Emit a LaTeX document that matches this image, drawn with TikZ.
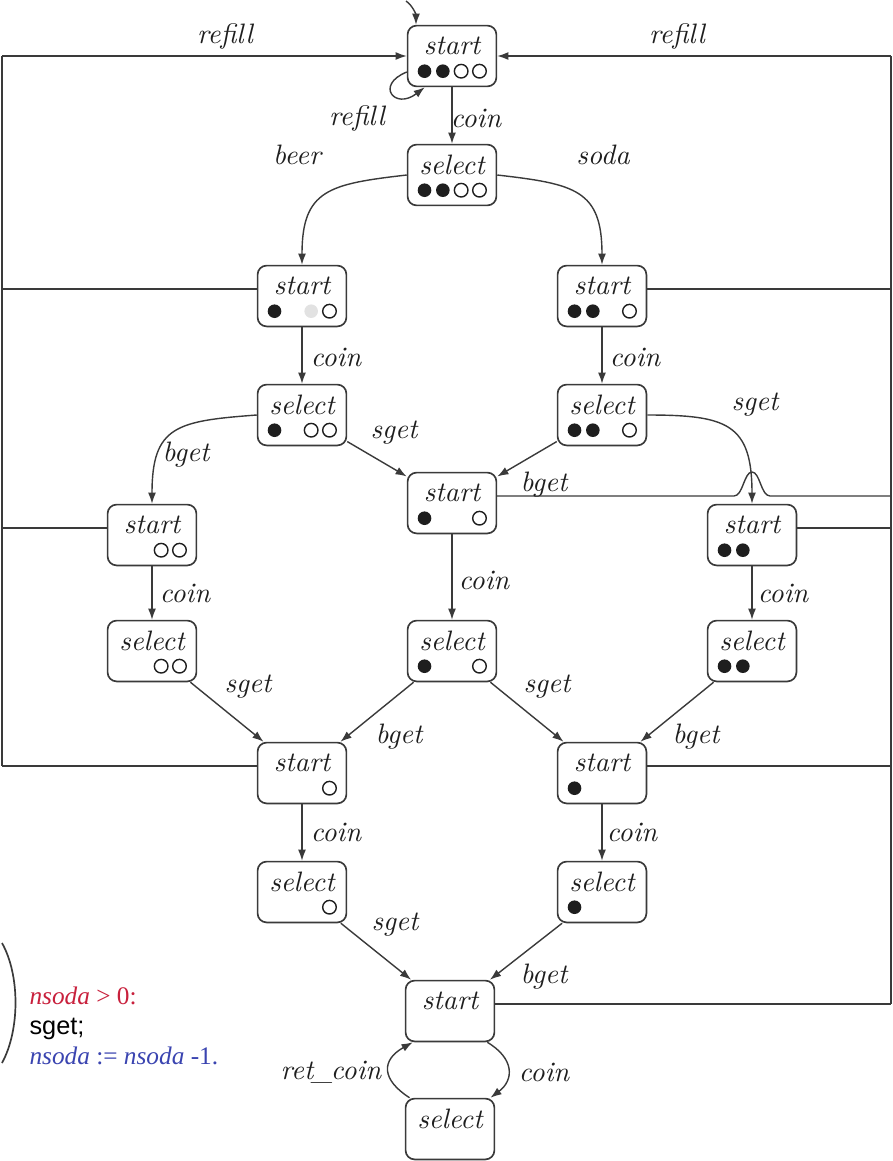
\documentclass[tikz,border=0pt]{standalone}
\usepackage{fontspec}
\usepackage{tikz}
\usetikzlibrary{arrows.meta,calc}
\newfontfamily\timesfont{Liberation Serif}
\newfontfamily\arialfont{Liberation Sans}
\definecolor{ink}{HTML}{1E1E1E}
\definecolor{wire}{HTML}{3A3A3A}
\definecolor{fadegray}{HTML}{E2E2E2}
\definecolor{nsodared}{HTML}{C8203C}
\definecolor{nsodablue}{HTML}{3A44B0}
\tikzset{
  statebox/.style={draw=wire,line width=0.6pt,rounded corners=3.2pt,minimum width=11.1mm,minimum height=7.6mm,inner sep=0pt},
  statetext/.style={font=\itshape,text=ink,inner sep=1pt},
  trans/.style={-{Latex[length=1.4mm,width=1mm]},line width=0.5pt,draw=wire},
  frameline/.style={line width=0.5pt,draw=wire},
  edgelabel/.style={font=\itshape,text=ink,inner sep=1pt},
  beerdot/.style={fill=ink},
  sodadot/.style={draw=ink,line width=0.5pt,fill=white},
  greydot/.style={fill=fadegray}
}
\newcommand{\vmstate}[3]{%
  \node[statebox] (#1) at (#2) {};
  \node[statetext] (#1-txt) at ([yshift=1.25mm]#1.center) {#3};
  \coordinate (#1-l) at ([yshift=0.875mm]#1.west);
  \coordinate (#1-r) at ([yshift=0.875mm]#1.east);
}
\newcommand{\bottles}[2]{%
  \foreach \k/\kind in {#2} {
    \path[\kind] ([xshift={(\k-2.5)*2.29mm},yshift=-1.9mm]#1.center) circle[radius=0.85mm];
  }
}

\begin{document}
\begin{tikzpicture}[x=0.125mm,y=-0.125mm,>=Latex]
  \useasboundingbox (0,0) rectangle (893,1161);
  \vmstate{s0}{452,56}{start}
  \vmstate{s1}{452,175}{select}
  \vmstate{s2}{302,296}{start}
  \vmstate{s3}{602,296}{start}
  \vmstate{s4}{302,415}{select}
  \vmstate{s5}{602,415}{select}
  \vmstate{s6}{452,503}{start}
  \vmstate{s7}{152,535}{start}
  \vmstate{s8}{752,535}{start}
  \vmstate{s9}{152,651}{select}
  \vmstate{s10}{452,651}{select}
  \vmstate{s11}{752,651}{select}
  \vmstate{s12}{302,773}{start}
  \vmstate{s13}{602,773}{start}
  \vmstate{s14}{302,892}{select}
  \vmstate{s15}{602,892}{select}
  \vmstate{s16}{450,1011}{start}
  \vmstate{s17}{450,1129}{select}
  \bottles{s0}{1/beerdot,2/beerdot,3/sodadot,4/sodadot}
  \bottles{s1}{1/beerdot,2/beerdot,3/sodadot,4/sodadot}
  \bottles{s2}{1/beerdot,3/greydot,4/sodadot}
  \bottles{s3}{1/beerdot,2/beerdot,4/sodadot}
  \bottles{s4}{1/beerdot,3/sodadot,4/sodadot}
  \bottles{s5}{1/beerdot,2/beerdot,4/sodadot}
  \bottles{s6}{1/beerdot,4/sodadot}
  \bottles{s7}{3/sodadot,4/sodadot}
  \bottles{s8}{1/beerdot,2/beerdot}
  \bottles{s9}{3/sodadot,4/sodadot}
  \bottles{s10}{1/beerdot,4/sodadot}
  \bottles{s11}{1/beerdot,2/beerdot}
  \bottles{s12}{4/sodadot}
  \bottles{s13}{1/beerdot}
  \bottles{s14}{4/sodadot}
  \bottles{s15}{1/beerdot}

  \coordinate (init) at (406,1);
  \coordinate (ltop) at (2,56);
  \coordinate (rtop) at (891,56);
  \coordinate (hop) at (s8.north |- s6-r);

  \draw[frameline] (ltop) -- (s12-l -| ltop);
  \draw[frameline] (rtop) -- (s16-r -| rtop);
  \draw[trans] (ltop) -- (s0.west);
  \draw[trans] (rtop) -- (s0.east);
  \draw[frameline] (s2-l) -- (s2-l -| ltop);
  \draw[frameline] (s7-l) -- (s7-l -| ltop);
  \draw[frameline] (s12-l) -- (s12-l -| ltop);
  \draw[frameline] (s3-r) -- (s3-r -| rtop);
  \draw[frameline] (s8-r) -- (s8-r -| rtop);
  \draw[frameline] (s13-r) -- (s13-r -| rtop);
  \draw[frameline] (s16-r) -- (s16-r -| rtop);
  \draw[frameline] (s6-r) -- ($(hop)+(-18,0)$) .. controls +(9,0) and +(-8,0) .. ($(hop)+(0,-24)$)
    .. controls +(8,0) and +(-9,0) .. ($(hop)+(18,0)$) -- (s6-r -| rtop);

  \draw[trans] (init) .. controls +(7,5) and +(0,-10) .. ([xshift=-4.5mm]s0.north);
  \draw[trans] ([yshift=-2mm]s0.west) .. controls +(-32,13) and +(-30,23) .. ([xshift=-3.4mm]s0.south);
  \draw[trans] (s0) -- (s1);
  \draw[trans] (s1.west) .. controls +(-78,9) and +(0,-75) .. (s2.north);
  \draw[trans] (s1.east) .. controls +(78,9) and +(0,-75) .. (s3.north);
  \draw[trans] (s2) -- (s4);
  \draw[trans] (s3) -- (s5);
  \draw[trans] (s4.west) .. controls +(-80,6) and +(0,-78) .. (s7.north);
  \draw[trans] (s4) -- (s6);
  \draw[trans] (s5) -- (s6);
  \draw[trans] (s5.east) .. controls +(80,0) and +(0,-80) .. (s8.north);
  \draw[trans] (s6) -- (s10);
  \draw[trans] (s7) -- (s9);
  \draw[trans] (s8) -- (s11);
  \draw[trans] (s9) -- (s12);
  \draw[trans] (s10) -- (s12);
  \draw[trans] (s10) -- (s13);
  \draw[trans] (s11) -- (s13);
  \draw[trans] (s12) -- (s14);
  \draw[trans] (s13) -- (s15);
  \draw[trans] (s14) -- (s16);
  \draw[trans] (s15) -- (s16);
  \draw[trans] ([xshift=-1mm]s16.south east) .. controls +(27,16) and +(24,-18) .. ([xshift=-0.6mm]s17.north east);
  \draw[trans] ([xshift=0.6mm]s17.north west) .. controls +(-28,-18) and +(-32,18) .. ([xshift=1mm]s16.south west);

  \node[edgelabel] (refill-l) at (225,36) {refill};
  \node[edgelabel] (refill-r) at (677,36) {refill};
  \node[edgelabel] (refill-loop) at (357,118) {refill};
  \node[edgelabel] (coin-0) at (476,118) {coin};
  \node[edgelabel] (beer) at (297,155) {beer};
  \node[edgelabel] (soda) at (603,155) {soda};
  \node[edgelabel] (coin-2) at (336,357) {coin};
  \node[edgelabel] (coin-3) at (635,357) {coin};
  \node[edgelabel] (sget-4) at (394,433) {sget};
  \node[edgelabel] (bget-4) at (186,455) {bget};
  \node[edgelabel] (sget-5) at (755,405) {sget};
  \node[edgelabel] (bget-5) at (544,485) {bget};
  \node[edgelabel] (coin-6) at (484,580) {coin};
  \node[edgelabel] (coin-7) at (185,593) {coin};
  \node[edgelabel] (coin-8) at (783,593) {coin};
  \node[edgelabel] (sget-9) at (248,687) {sget};
  \node[edgelabel] (bget-10) at (399,737) {bget};
  \node[edgelabel] (sget-10) at (547,687) {sget};
  \node[edgelabel] (bget-11) at (696,737) {bget};
  \node[edgelabel] (coin-12) at (336,832) {coin};
  \node[edgelabel] (coin-13) at (632,832) {coin};
  \node[edgelabel] (sget-14) at (395,925) {sget};
  \node[edgelabel] (bget-15) at (544,977) {bget};
  \node[edgelabel] (retcoin) at (331,1072) {ret\kern-0.6pt\_\kern-0.6pt coin};
  \node[edgelabel] (coin-16) at (544,1072) {coin};

  \draw[wire,line width=0.6pt] (2,943) .. controls (20,975) and (20,1030) .. (2,1063);
  \node[anchor=west,align=left,inner sep=0pt,font=\fontsize{9}{10.7}\selectfont\timesfont] (guard) at (29,1026)
    {\textcolor{nsodared}{\itshape nsoda\/ \upshape > 0:}\\
     {\arialfont sget;}\\
     \textcolor{nsodablue}{\itshape nsoda\/ \upshape := \itshape nsoda\/ \upshape -1.}};
\end{tikzpicture}
\end{document}
